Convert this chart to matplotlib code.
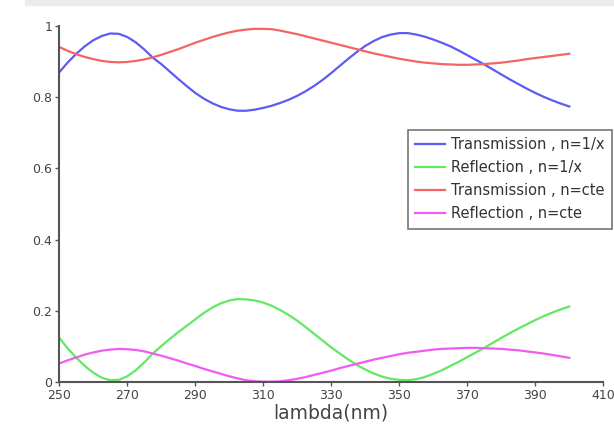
import numpy as np
import matplotlib
matplotlib.use("Agg")
import matplotlib.pyplot as plt
from matplotlib.patches import Rectangle

# wavelength grid (nm)
wavelength = np.arange(250, 400.1, 2.5)

# n = 1/x
trans_inv = [0.870, 0.898, 0.922, 0.943, 0.960, 0.972, 0.979, 0.978, 0.969, 0.954,
             0.934, 0.911, 0.893, 0.872, 0.851, 0.831, 0.812, 0.796, 0.783, 0.773,
             0.766, 0.762, 0.762, 0.765, 0.770, 0.776, 0.784, 0.793, 0.804, 0.817,
             0.832, 0.849, 0.868, 0.888, 0.908, 0.927, 0.944, 0.958, 0.969, 0.976,
             0.980, 0.980, 0.976, 0.970, 0.962, 0.953, 0.943, 0.931, 0.918, 0.905,
             0.892, 0.878, 0.864, 0.850, 0.837, 0.824, 0.812, 0.801, 0.791, 0.782,
             0.774]
refl_inv = [0.124, 0.094, 0.068, 0.045, 0.026, 0.012, 0.005, 0.006, 0.016, 0.033,
            0.055, 0.080, 0.101, 0.121, 0.140, 0.158, 0.176, 0.194, 0.209, 0.221,
            0.229, 0.233, 0.232, 0.229, 0.223, 0.214, 0.202, 0.188, 0.172, 0.154,
            0.135, 0.116, 0.097, 0.080, 0.063, 0.048, 0.035, 0.024, 0.015, 0.009,
            0.006, 0.005, 0.008, 0.014, 0.023, 0.033, 0.045, 0.057, 0.070, 0.083,
            0.096, 0.110, 0.124, 0.137, 0.150, 0.162, 0.174, 0.185, 0.195, 0.204,
            0.212]

# n = constant
trans_cte = [0.941, 0.930, 0.921, 0.913, 0.907, 0.902, 0.899, 0.898, 0.899, 0.902,
             0.906, 0.912, 0.919, 0.927, 0.935, 0.944, 0.953, 0.961, 0.969, 0.976,
             0.982, 0.987, 0.990, 0.992, 0.992, 0.991, 0.987, 0.982, 0.977, 0.971,
             0.965, 0.959, 0.953, 0.947, 0.941, 0.935, 0.929, 0.923, 0.918, 0.913,
             0.908, 0.904, 0.900, 0.897, 0.895, 0.893, 0.892, 0.891, 0.891, 0.892,
             0.893, 0.895, 0.897, 0.900, 0.903, 0.907, 0.910, 0.913, 0.916, 0.919,
             0.922]
refl_cte = [0.052, 0.061, 0.069, 0.077, 0.083, 0.088, 0.091, 0.093, 0.092, 0.090,
            0.086, 0.080, 0.074, 0.067, 0.060, 0.052, 0.045, 0.037, 0.030, 0.023,
            0.016, 0.010, 0.005, 0.002, 0.001, 0.001, 0.002, 0.005, 0.009, 0.014,
            0.020, 0.026, 0.032, 0.039, 0.045, 0.051, 0.057, 0.063, 0.068, 0.073,
            0.078, 0.082, 0.085, 0.088, 0.091, 0.093, 0.094, 0.095, 0.096, 0.096,
            0.095, 0.094, 0.093, 0.091, 0.089, 0.086, 0.083, 0.080, 0.076, 0.072,
            0.068]

labels = ["Transmission , n=1/x", "Reflection , n=1/x",
          "Transmission , n=cte", "Reflection , n=cte"]
COLORS = ["#5c5cf4", "#62e862", "#f46464", "#f05cf0"]

xticks = np.arange(250, 411, 20)
yticks = [0, 0.2, 0.4, 0.6, 0.8, 1]
yticklabels = ["0", "0.2", "0.4", "0.6", "0.8", "1"]

fig = plt.figure(figsize=(6.14, 4.32), dpi=100)
ax = fig.add_axes([59.3 / 614, 50 / 432, 544 / 614, 356 / 432])

for series, lab, col in zip([trans_inv, refl_inv, trans_cte, refl_cte], labels, COLORS):
    ax.plot(wavelength, series, color=col, lw=1.6, label=lab)

ax.set_xlim(250, 410)
ax.set_ylim(0, 1)
ax.set_xticks(xticks)
ax.set_yticks(yticks)
ax.set_yticklabels(yticklabels)
ax.spines["top"].set_visible(False)
ax.spines["right"].set_visible(False)
for s in ("left", "bottom"):
    ax.spines[s].set_color("#555555")
    ax.spines[s].set_linewidth(1.5)
ax.tick_params(direction="out", length=3, width=1, color="#555555",
               labelsize=9, labelcolor="#444444", pad=2)
ax.set_xlabel("lambda(nm)", fontsize=13.5, color="#444444", labelpad=1)

leg = ax.legend(loc="upper right", bbox_to_anchor=(1.016, 0.708),
                borderaxespad=0, fontsize=10.5, frameon=True, fancybox=False,
                handlelength=2.0, handletextpad=0.45, labelspacing=0.55,
                borderpad=0.5)
leg.get_frame().set_edgecolor("#555555")
leg.get_frame().set_linewidth(1.2)
for t in leg.get_texts():
    t.set_color("#333333")

# light band along the top edge
fig.patches.append(Rectangle((0.04, 1 - 5 / 432), 0.96, 5 / 432,
                             transform=fig.transFigure, color="#ececec", zorder=0))

fig.savefig("out.png", dpi=100)
